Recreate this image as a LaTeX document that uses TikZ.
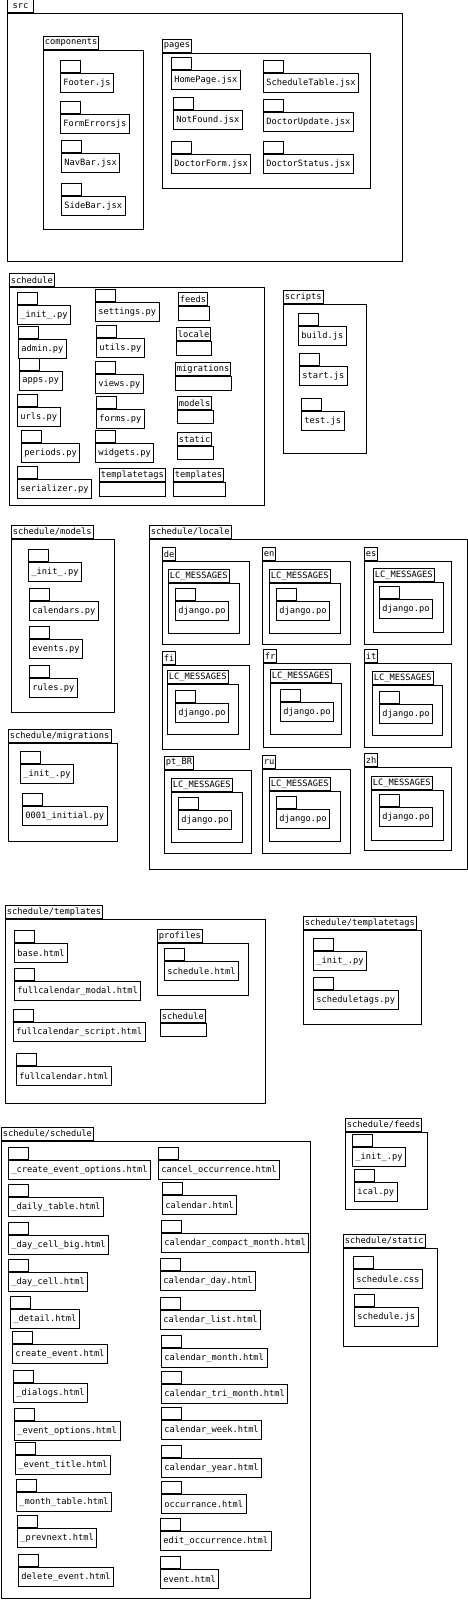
\documentclass[tikz,border=0pt]{standalone}
\usepackage{fontspec}
\setmonofont{DejaVu Sans Mono}
\usepackage{tikz}
\tikzset{
  pkgfont/.style = {font=\ttfamily\fontsize{8.7}{10}\selectfont},
  pkgbody/.style = {draw, line width=0.9pt, anchor=north west, inner sep=0pt},
  pkgtab/.style = {draw, line width=0.9pt, pkgfont, anchor=south west, inner xsep=1.5pt, inner ysep=0pt, minimum height=13.5pt},
  filebody/.style = {draw, line width=0.9pt, pkgfont, anchor=north west, inner xsep=3pt, inner ysep=0pt, minimum height=19pt},
  filetab/.style = {draw, line width=0.9pt, anchor=south west, inner sep=0pt, minimum width=20pt, minimum height=12pt}
}
% file: name, x, y (top left of the body), label
\newcommand{\leaf}[4]{%
  \node[filebody] (#1) at (#2,#3) {#4};
  \node[filetab] (#1-tab) at (#1.north west) {};}
% package: name, x, y, width, height, label
\newcommand{\pkg}[7][]{%
  \node[pkgbody, minimum width=#5, minimum height=#6] (#2) at (#3,#4) {};
  \node[pkgtab, #1] (#2-tab) at (#2.north west) {#7};}

\begin{document}
\begin{tikzpicture}[x=1pt, y=-1pt]
\useasboundingbox (0,0) rectangle (467,1600);

% src
\pkg[minimum width=26]{src}{7}{13}{395}{248}{src}
\pkg{components}{43}{50}{100}{179}{components}
\leaf{footer}{60}{73}{Footer.js}
\leaf{formerrors}{60}{114}{FormErrorsjs}
\leaf{navbar}{61}{153}{NavBar.jsx}
\leaf{sidebar}{61}{196}{SideBar.jsx}
\pkg{pages}{162}{53}{208}{135}{pages}
\leaf{homepage}{171}{70}{HomePage.jsx}
\leaf{scheduletable}{263}{73}{ScheduleTable.jsx}
\leaf{notfound}{173}{110}{NotFound.jsx}
\leaf{doctorupdate}{263}{112}{DoctorUpdate.jsx}
\leaf{doctorform}{171}{154}{DoctorForm.jsx}
\leaf{doctorstatus}{263}{154}{DoctorStatus.jsx}

% schedule
\pkg{schedule}{9}{287}{255}{218}{schedule}
\leaf{s-init}{17}{305}{\_init\_.py}
\leaf{s-admin}{18}{339}{admin.py}
\leaf{s-apps}{19}{371}{apps.py}
\leaf{s-urls}{17}{407}{urls.py}
\leaf{s-periods}{21}{443}{periods.py}
\leaf{s-serializer}{17}{479}{serializer.py}
\leaf{s-settings}{95}{302}{settings.py}
\leaf{s-utils}{96}{338}{utils.py}
\leaf{s-views}{95}{374}{views.py}
\leaf{s-forms}{96}{409}{forms.py}
\leaf{s-widgets}{95}{443}{widgets.py}
\pkg{s-templatetags}{99}{482}{66}{14}{templatetags}
\pkg{s-feeds}{178}{306}{31}{14}{feeds}
\pkg{s-locale}{176}{341}{35}{14}{locale}
\pkg{s-migrations}{175}{376}{56}{14}{migrations}
\pkg{s-models}{177}{410}{36}{13}{models}
\pkg{s-static}{177}{446}{36}{13}{static}
\pkg{s-templates}{173}{482}{52}{14}{templates}

% scripts
\pkg{scripts}{283}{304}{83}{149}{scripts}
\leaf{build}{298}{326}{build.js}
\leaf{start}{299}{366}{start.js}
\leaf{test}{301}{411}{test.js}

% schedule/models
\pkg{models}{11}{539}{103}{173}{schedule/models}
\leaf{m-init}{28}{562}{\_init\_.py}
\leaf{m-calendars}{29}{601}{calendars.py}
\leaf{m-events}{29}{639}{events.py}
\leaf{m-rules}{29}{678}{rules.py}

% schedule/migrations
\pkg{migrations}{8}{743}{109}{98}{schedule/migrations}
\leaf{mg-init}{20}{764}{\_init\_.py}
\leaf{mg-initial}{22}{806}{0001\_initial.py}

% schedule/locale
\pkg{locale}{149}{539}{317.5}{330}{schedule/locale}
\pkg{de}{162}{561}{87}{83}{de}
\pkg{de-lc}{168}{583}{71}{50}{LC\_MESSAGES}
\leaf{de-po}{175}{601}{django.po}
\pkg{en}{262}{561}{88}{83}{en}
\pkg{en-lc}{269}{583}{71}{50}{LC\_MESSAGES}
\leaf{en-po}{276}{601}{django.po}
\pkg{es}{364}{561}{87}{83}{es}
\pkg{es-lc}{373}{582}{70}{50}{LC\_MESSAGES}
\leaf{es-po}{379}{599}{django.po}
\pkg{fi}{162}{665}{87}{84}{fi}
\pkg{fi-lc}{167}{684}{71}{50}{LC\_MESSAGES}
\leaf{fi-po}{175}{703}{django.po}
\pkg{fr}{263}{663}{87}{84}{fr}
\pkg{fr-lc}{270}{683}{71}{51}{LC\_MESSAGES}
\leaf{fr-po}{280}{702}{django.po}
\pkg{it}{364}{663}{87}{84}{it}
\pkg{it-lc}{372}{685}{70}{50}{LC\_MESSAGES}
\leaf{it-po}{379}{704}{django.po}
\pkg{ptbr}{164}{770}{87}{83}{pt\_BR}
\pkg{ptbr-lc}{171}{792}{71}{50}{LC\_MESSAGES}
\leaf{ptbr-po}{178}{810}{django.po}
\pkg{ru}{262}{769}{88}{84}{ru}
\pkg{ru-lc}{269}{791}{71}{50}{LC\_MESSAGES}
\leaf{ru-po}{276}{809}{django.po}
\pkg{zh}{364}{767}{87}{83}{zh}
\pkg{zh-lc}{371}{790}{72}{50}{LC\_MESSAGES}
\leaf{zh-po}{379}{807}{django.po}

% schedule/templates
\pkg{templates}{5}{919}{260}{184}{schedule/templates}
\leaf{t-base}{14}{943}{base.html}
\leaf{t-modal}{14}{981}{fullcalendar\_modal.html}
\leaf{t-script}{13}{1022}{fullcalendar\_script.html}
\leaf{t-full}{16}{1066}{fullcalendar.html}
\pkg{t-profiles}{157}{943}{91}{52}{profiles}
\leaf{t-p-schedule}{164}{961}{schedule.html}
\pkg{t-schedule}{160}{1023}{46}{13}{schedule}

% schedule/templatetags
\pkg{templatetags}{303}{930}{118}{94}{schedule/templatetags}
\leaf{tt-init}{313}{951}{\_init\_.py}
\leaf{tt-tags}{313}{990}{scheduletags.py}

% schedule/schedule
\pkg{sched}{1}{1141}{309}{457}{schedule/schedule}
\leaf{ss-createopts}{8}{1160}{\_create\_event\_options.html}
\leaf{ss-daily}{8}{1197}{\_daily\_table.html}
\leaf{ss-cellbig}{8}{1235}{\_day\_cell\_big.html}
\leaf{ss-cell}{8}{1272}{\_day\_cell.html}
\leaf{ss-detail}{10}{1309}{\_detail.html}
\leaf{ss-create}{12}{1344}{create\_event.html}
\leaf{ss-dialogs}{13}{1383}{\_dialogs.html}
\leaf{ss-opts}{14}{1421}{\_event\_options.html}
\leaf{ss-title}{15}{1455}{\_event\_title.html}
\leaf{ss-month}{16}{1492}{\_month\_table.html}
\leaf{ss-prevnext}{17}{1528}{\_prevnext.html}
\leaf{ss-delete}{18}{1567}{delete\_event.html}
\leaf{ss-cancel}{158}{1160}{cancel\_occurrence.html}
\leaf{ss-calendar}{162}{1195}{calendar.html}
\leaf{ss-compact}{161}{1233}{calendar\_compact\_month.html}
\leaf{ss-calday}{160}{1271}{calendar\_day.html}
\leaf{ss-callist}{160}{1310}{calendar\_list.html}
\leaf{ss-calmonth}{161}{1348}{calendar\_month.html}
\leaf{ss-tri}{161}{1384}{calendar\_tri\_month.html}
\leaf{ss-calweek}{161}{1420}{calendar\_week.html}
\leaf{ss-calyear}{161}{1458}{calendar\_year.html}
\leaf{ss-occ}{161}{1494}{occurrance.html}
\leaf{ss-edit}{160}{1531}{edit\_occurrence.html}
\leaf{ss-event}{160}{1569}{event.html}

% schedule/feeds
\pkg{feeds}{345}{1132}{82}{77}{schedule/feeds}
\leaf{f-init}{352}{1147}{\_init\_.py}
\leaf{f-ical}{354}{1182}{ical.py}

% schedule/static
\pkg{static}{343}{1248}{94}{98}{schedule/static}
\leaf{st-css}{353}{1269}{schedule.css}
\leaf{st-js}{354}{1307}{schedule.js}

\end{tikzpicture}
\end{document}
